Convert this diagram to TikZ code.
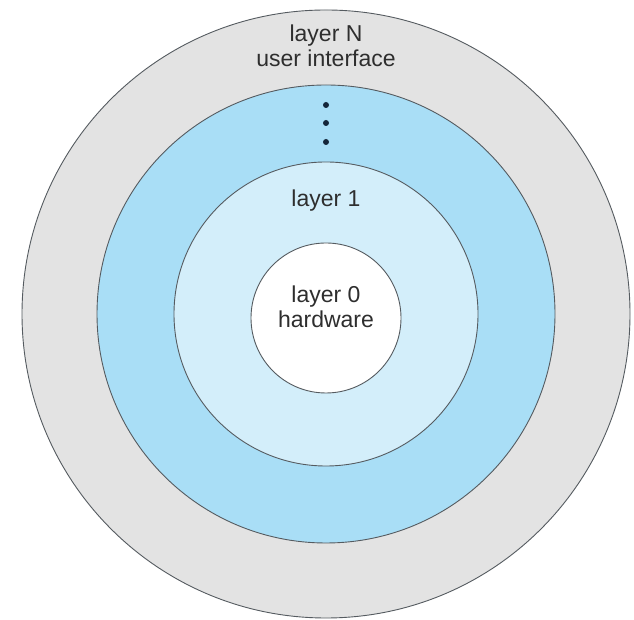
\documentclass[tikz,border=0pt]{standalone}
\usepackage{fontspec}
\setmainfont{Liberation Sans}
\definecolor{outergrey}{HTML}{E3E3E3}
\definecolor{midblue}{HTML}{A9DEF6}
\definecolor{paleblue}{HTML}{D3EEFA}
\definecolor{ringline}{HTML}{555B60}
\definecolor{txt}{HTML}{2E2E2E}
\definecolor{dotc}{HTML}{14263A}
\tikzset{
  ring/.style={circle, draw=ringline, line width=0.9pt, inner sep=0pt},
  lbl/.style={anchor=base, text=txt, inner sep=0pt, font=\fontsize{23}{27}\selectfont},
  vdot/.style={circle, fill=dotc, minimum size=6pt, inner sep=0pt}
}
\begin{document}
\begin{tikzpicture}[x=1pt,y=1pt]
\useasboundingbox (0,0) rectangle (634,620);
\node[ring, fill=outergrey, minimum size=608pt] (outer) at (326,306) {};
\node[ring, fill=midblue, minimum size=458pt] (blue) at (326,306) {};
\node[ring, fill=paleblue, minimum size=304pt] (pale) at (326,306) {};
\node[ring, fill=white, minimum size=150pt] (hw) at (326,302) {};
\node[lbl] (ln) at (326,578) {layer N};
\node[lbl] (ui) at (326,553) {user interface};
\node[vdot] (d1) at (326,515) {};
\node[vdot] (d2) at (326,497) {};
\node[vdot] (d3) at (326,478) {};
\node[lbl] (l1) at (326,413) {layer 1};
\node[lbl] (l0) at (326,317) {layer 0};
\node[lbl] (hwt) at (326,292) {hardware};
\end{tikzpicture}
\end{document}
